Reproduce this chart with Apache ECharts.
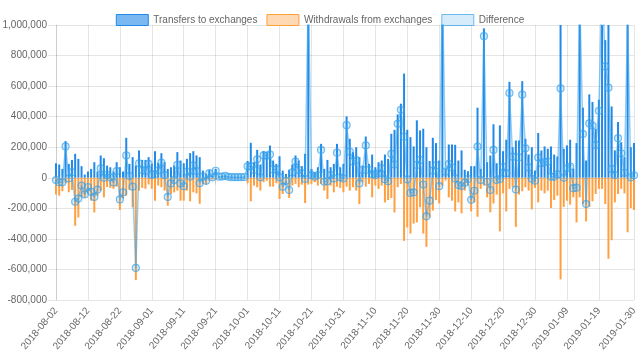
<!DOCTYPE html>
<html>
<head>
<meta charset="utf-8">
<script src="https://cdn.jsdelivr.net/npm/echarts@6/dist/echarts.min.js"></script>
<style>
html,body{margin:0;padding:0;background:#fff;}
#chart{width:640px;height:361px;}
</style>
</head>
<body>
<div id="chart"></div>
<script>
// Categories: consecutive days from 2018-08-02 to 2019-01-30
const startDate = '2018-08-02';
const endDate = '2019-01-30';
const categories = [];
for (let d = new Date(startDate + 'T00:00:00Z'); d <= new Date(endDate + 'T00:00:00Z'); d.setUTCDate(d.getUTCDate() + 1)) {
  categories.push(d.toISOString().slice(0, 10));
}

const seriesNames = ['Transfers to exchanges', 'Withdrawals from exchanges', 'Difference'];

const transfers = [
  95000, 87000, 58000, 240000, 91000, 117000, 157000, 124000, 76000, 21000,
  41000, 58000, 102000, 41000, 146000, 128000, 80000, 69000, 41000, 102000,
  69000, 41000, 262000, 91000, 135000, 80000, 179000, 117000, 117000, 135000,
  91000, 174000, 98000, 161000, 102000, 58000, 69000, 80000, 168000, 113000,
  95000, 124000, 161000, 174000, 146000, 135000, 47000, 25000, 50000, 15000,
  58000, 10000, 12000, 15000, 8000, 6000, 5000, 6000, 5000, 8000,
  110000, 229000, 102000, 183000, 87000, 175000, 165000, 211000, 113000, 91000,
  141000, 47000, 25000, 52000, 87000, 146000, 113000, 76000, 157000, 1250000,
  58000, 36000, 69000, 222000, 58000, 117000, 69000, 91000, 222000, 69000,
  91000, 402000, 255000, 168000, 200000, 135000, 80000, 270000, 91000, 152000,
  69000, 102000, 113000, 152000, 124000, 288000, 314000, 415000, 485000, 682000,
  314000, 266000, 205000, 376000, 310000, 321000, 200000, 110000, 262000, 227000,
  113000, 1300000, 58000, 218000, 218000, 216000, 113000, 179000, 52000, 43000,
  76000, 76000, 459000, 58000, 978000, 102000, 146000, 350000, 95000, 343000,
  174000, 249000, 628000, 200000, 244000, 244000, 632000, 255000, 152000, 200000,
  47000, 293000, 179000, 205000, 190000, 205000, 152000, 139000, 1250000, 190000,
  212000, 249000, 60000, 227000, 1300000, 459000, 113000, 546000, 496000, 321000,
  511000, 1400000, 901000, 1120000, 467000, 179000, 365000, 233000, 135000, 1400000,
  200000, 227000
];

const withdrawals = [
  -110000, -117000, -88000, -35000, -95000, -80000, -314000, -260000, -127000, -130000,
  -102000, -150000, -227000, -118000, -85000, -128000, -61000, -66000, -72000, -58000,
  -211000, -136000, -116000, -80000, -193000, -670000, -85000, -66000, -72000, -44000,
  -72000, -150000, -51000, -62000, -84000, -183000, -106000, -95000, -84000, -150000,
  -150000, -84000, -154000, -95000, -102000, -170000, -40000, -45000, -20000, -12000,
  -12000, -3000, -4000, -3000, -2000, -2000, -1000, -2000, -1000, -3000,
  -35000, -154000, -51000, -62000, -84000, -29000, -20000, -58000, -58000, -36000,
  -139000, -106000, -45000, -132000, -51000, -40000, -62000, -45000, -165000, -45000,
  -40000, -29000, -51000, -40000, -84000, -139000, -51000, -95000, -58000, -66000,
  -95000, -58000, -84000, -62000, -84000, -172000, -29000, -58000, -40000, -128000,
  -51000, -73000, -51000, -161000, -146000, -132000, -227000, -62000, -40000, -413000,
  -325000, -365000, -300000, -292000, -193000, -365000, -452000, -260000, -215000, -146000,
  -168000, -51000, -18000, -128000, -150000, -220000, -161000, -233000, -84000, -51000,
  -220000, -161000, -255000, -73000, -51000, -128000, -226000, -168000, -110000, -351000,
  -102000, -220000, -73000, -62000, -321000, -110000, -88000, -62000, -84000, -207000,
  -66000, -161000, -84000, -102000, -84000, -198000, -146000, -117000, -665000, -190000,
  -150000, -176000, -128000, -292000, -128000, -172000, -285000, -190000, -154000, -106000,
  -73000, -73000, -172000, -530000, -409000, -161000, -106000, -73000, -102000, -357000,
  -198000, -211000
];

const difference = [
  -15000, -30000, -30000, 205000, -4000, 37000, -157000, -136000, -51000, -109000,
  -61000, -92000, -125000, -77000, 61000, 0, 19000, 3000, -31000, 44000,
  -142000, -95000, 146000, 11000, -58000, -590000, 94000, 51000, 45000, 91000,
  19000, 24000, 47000, 99000, 18000, -125000, -37000, -15000, 84000, -37000,
  -55000, 40000, 7000, 79000, 44000, -35000, 7000, -20000, 30000, 3000,
  46000, 7000, 8000, 12000, 6000, 4000, 4000, 4000, 4000, 5000,
  75000, 75000, 51000, 121000, 3000, 146000, 145000, 153000, 55000, 55000,
  2000, -59000, -20000, -80000, 36000, 106000, 51000, 31000, -8000, 1205000,
  18000, 7000, 18000, 182000, -26000, -22000, 18000, -4000, 164000, 3000,
  -4000, 344000, 171000, 106000, 116000, -37000, 51000, 212000, 51000, 24000,
  18000, 29000, 62000, -9000, -22000, 156000, 87000, 353000, 445000, 269000,
  -11000, -99000, -95000, 84000, 117000, -44000, -252000, -150000, 47000, 81000,
  -55000, 1249000, 40000, 90000, 68000, -4000, -48000, -54000, -32000, -8000,
  -144000, -85000, 204000, -15000, 927000, -26000, -80000, 182000, -15000, -8000,
  72000, 29000, 555000, 138000, -77000, 134000, 544000, 193000, 68000, -7000,
  -19000, 132000, 95000, 103000, 106000, 7000, 6000, 22000, 585000, 0,
  62000, 73000, -68000, -65000, 1172000, 287000, -172000, 356000, 342000, 215000,
  438000, 1327000, 729000, 590000, 58000, 18000, 259000, 160000, 33000, 1043000,
  2000, 16000
];

const yTicks = [-800000, -600000, -400000, -200000, 0, 200000, 400000, 600000, 800000, 1000000];

const labelEvery = 10;
const lastIndex = categories.length - 1;
// every 10th day, the final day always shown, the one just before it skipped
const showTick = function (idx) {
  return idx === lastIndex || (idx % labelEvery === 0 && lastIndex - idx >= labelEvery);
};

const font = "'Liberation Sans', Arial, Helvetica, sans-serif";
const gridColor = 'rgba(0,0,0,0.1)';
const blue = 'rgb(33,137,232)';
const orange = 'rgb(255,159,64)';

const chart = echarts.init(document.getElementById('chart'), null, { renderer: 'canvas' });
chart.setOption({
  animation: false,
  backgroundColor: '#fff',
  textStyle: { fontFamily: font },
  legend: {
    top: 9,
    left: 'center',
    icon: 'rect',
    itemWidth: 32,
    itemHeight: 11,
    itemGap: 9,
    textStyle: { fontSize: 10, color: '#666', fontFamily: font },
    data: [
      { name: seriesNames[0], itemStyle: { color: 'rgba(33,137,232,0.6)', borderColor: blue, borderWidth: 1 } },
      { name: seriesNames[1], itemStyle: { color: 'rgba(255,159,64,0.4)', borderColor: orange, borderWidth: 1 } },
      { name: seriesNames[2], itemStyle: { color: 'rgba(54,162,235,0.2)', borderColor: 'rgba(54,162,235,0.7)', borderWidth: 1 } }
    ]
  },
  grid: { left: 56, right: 6, top: 25, bottom: 61, containLabel: false, outerBoundsMode: 'none' },
  xAxis: {
    type: 'category',
    data: categories,
    boundaryGap: false,
    axisLine: { show: true, lineStyle: { color: gridColor } },
    axisTick: { show: true, length: 7, interval: showTick, lineStyle: { color: gridColor } },
    splitLine: { show: true, interval: showTick, lineStyle: { color: gridColor } },
    axisLabel: { interval: showTick, rotate: 50, margin: 9, fontSize: 10, color: '#666', fontFamily: font }
  },
  yAxis: {
    type: 'value',
    min: yTicks[0],
    max: yTicks[yTicks.length - 1],
    interval: yTicks[1] - yTicks[0],
    axisLine: { show: true, lineStyle: { color: gridColor } },
    axisTick: { show: true, length: 8, lineStyle: { color: gridColor } },
    splitLine: { show: true, lineStyle: { color: gridColor } },
    axisLabel: {
      margin: 9, fontSize: 10, color: '#666', fontFamily: font,
      formatter: function (v) { return v.toLocaleString('en-US'); }
    }
  },
  series: [
    {
      name: seriesNames[0], type: 'bar', stack: 'flow', data: transfers,
      barWidth: 2, clip: true,
      itemStyle: { color: blue }
    },
    {
      name: seriesNames[1], type: 'bar', stack: 'flow', data: withdrawals,
      barWidth: 2, clip: true,
      itemStyle: { color: orange }
    },
    {
      name: seriesNames[2], type: 'line', data: difference, z: 5, clip: true,
      symbol: 'circle', symbolSize: 7, showAllSymbol: true,
      lineStyle: { color: 'rgba(54,162,235,0.55)', width: 1.5 },
      itemStyle: { color: 'rgba(54,162,235,0.2)', borderColor: 'rgba(54,162,235,0.7)', borderWidth: 1.2 }
    }
  ]
});
</script>
</body>
</html>
